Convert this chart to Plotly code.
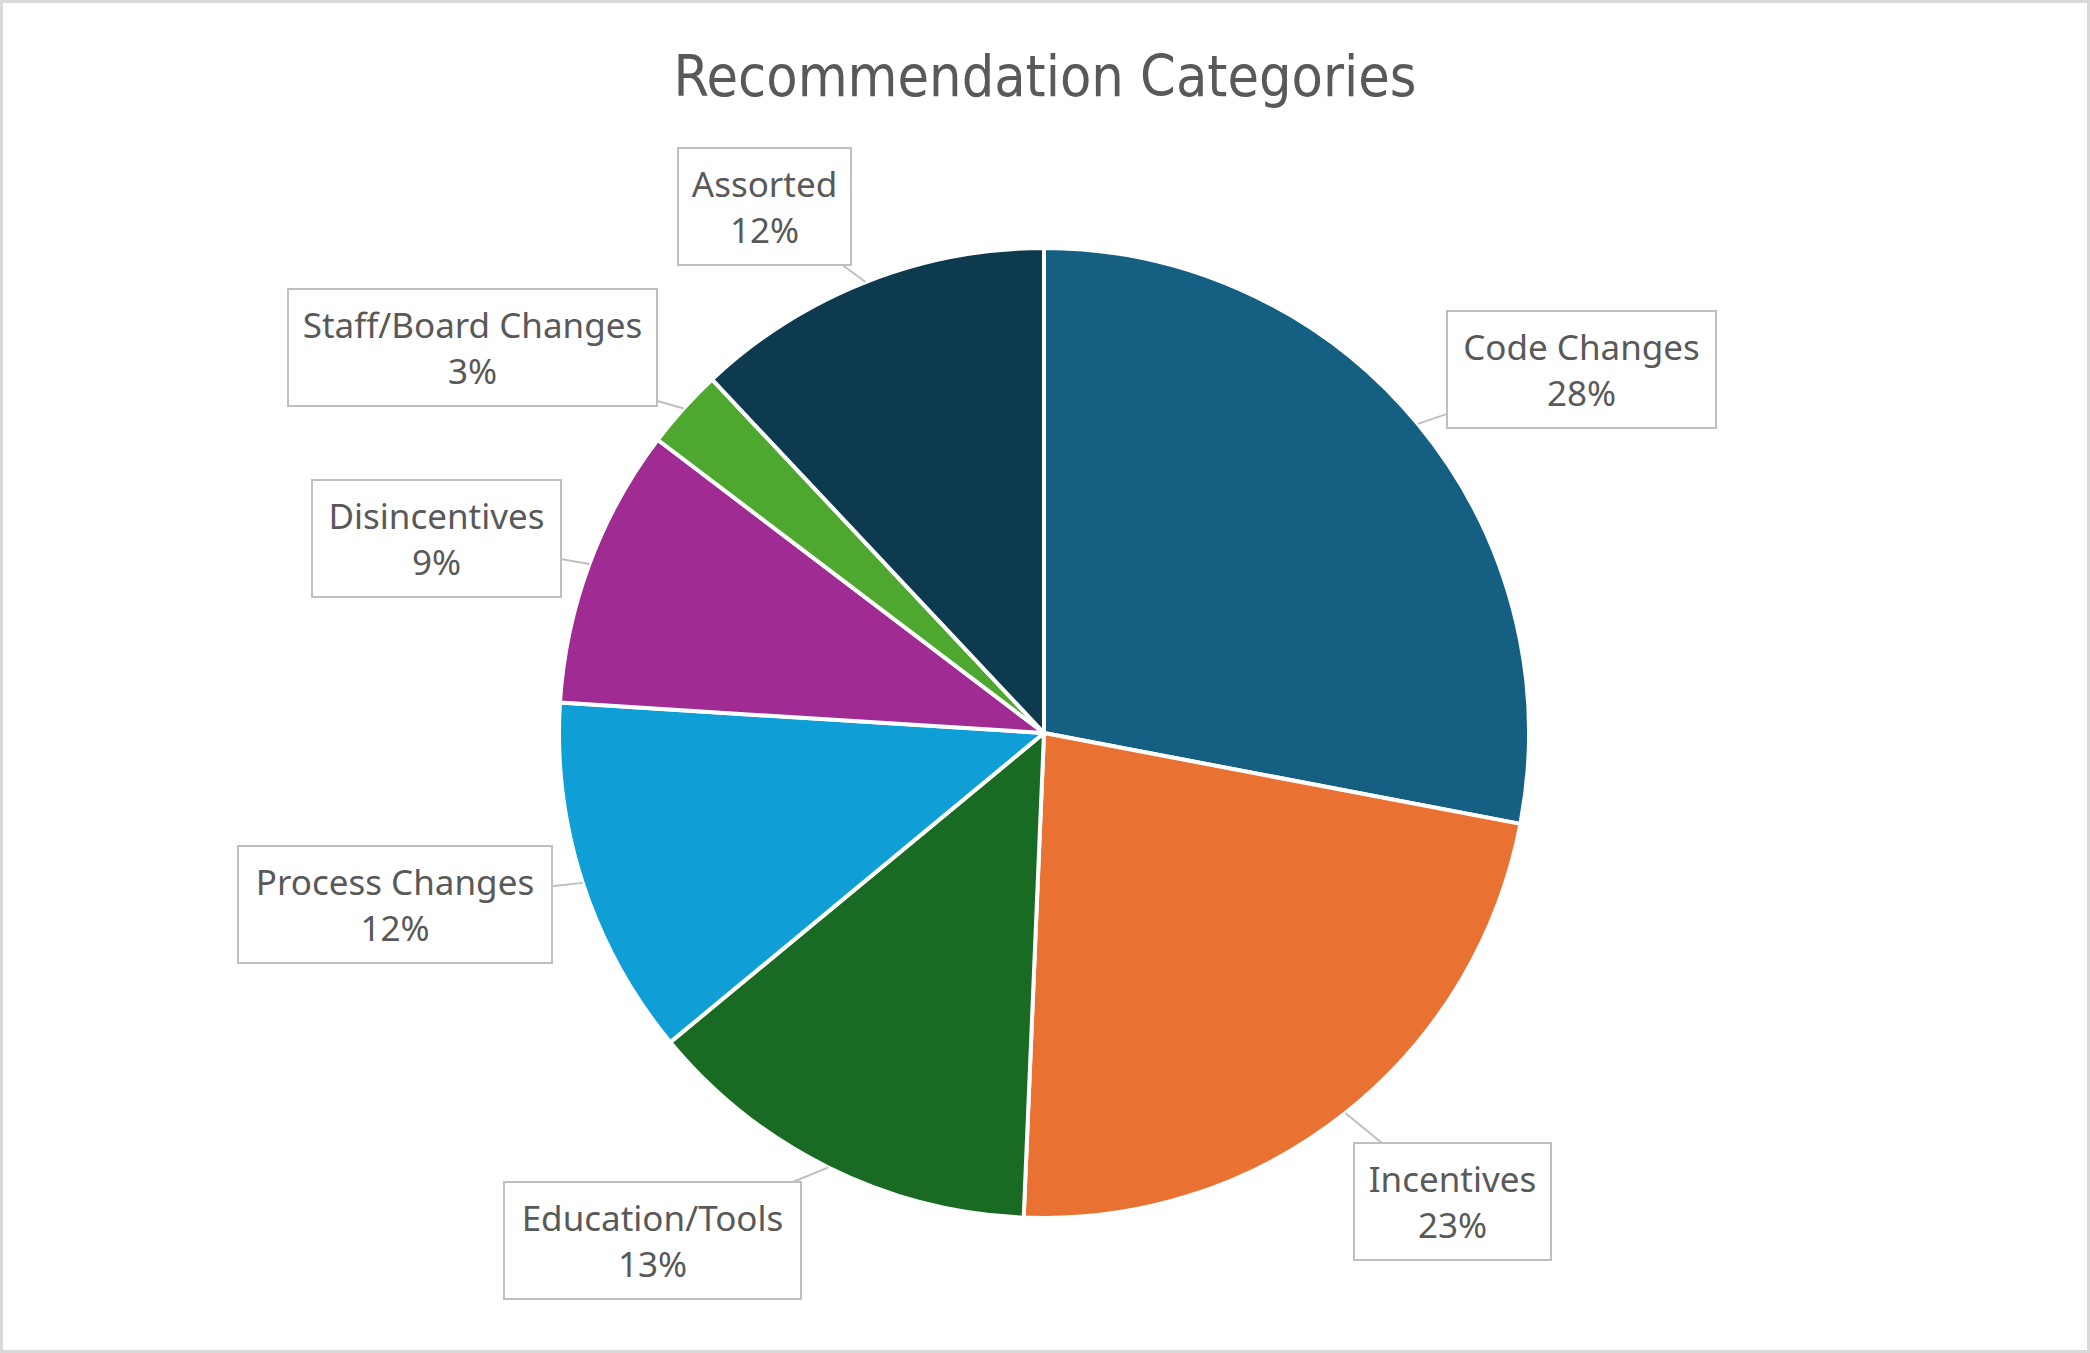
import math
import plotly.graph_objects as go

# ---- data ----
categories = ["Code Changes", "Incentives", "Education/Tools", "Process Changes",
              "Disincentives", "Staff/Board Changes", "Assorted"]
counts = [21, 17, 10, 9, 7, 2, 9]
colors = ["#156082", "#E97132", "#196B24", "#0F9ED5", "#A02B93", "#4EA72E", "#0E3A4F"]

# label box layout: centre x, centre y, box width (px from top-left)
label_box = {
    "Code Changes": (1581, 369, 271),
    "Incentives": (1453, 1201, 199),
    "Education/Tools": (652, 1240, 299),
    "Process Changes": (395, 904, 316),
    "Disincentives": (436, 538, 251),
    "Staff/Board Changes": (472, 348, 371),
    "Assorted": (764, 207, 175),
}

W, H = 2090, 1353
CX, CY, R = 1044, 733, 485
PAD = 11

fig = go.Figure(go.Pie(
    labels=categories, values=counts, sort=False, direction="clockwise", rotation=0,
    marker=dict(colors=colors, line=dict(color="white", width=4)),
    textinfo="none", hoverinfo="label+percent", showlegend=False,
    domain=dict(x=[(CX - R) / W, (CX + R) / W], y=[(H - CY - R) / H, (H - CY + R) / H]),
))

total = sum(counts)
cum = 0
annotations = []
for cat, v in zip(categories, counts):
    mid = (cum + v / 2) / total
    cum += v
    th = 2 * math.pi * mid
    tx = CX + R * math.sin(th)
    ty = CY - R * math.cos(th)
    bx, by, bw = label_box[cat]
    pct = round(100 * v / total)
    annotations.append(dict(
        x=tx / W, y=1 - ty / H, xref="paper", yref="paper",
        text=f"{cat}<br>{pct}%", showarrow=True, arrowhead=0, arrowwidth=2,
        arrowcolor="#BFBFBF", ax=bx - tx, ay=by - ty,
        font=dict(family="Noto Sans", size=35, color="#595959"),
        width=bw - 2 * PAD - 4,
        bordercolor="#BFBFBF", borderwidth=2, borderpad=PAD, bgcolor="white",
        align="center",
    ))

fig.update_layout(
    width=W, height=H, autosize=False,
    margin=dict(l=0, r=0, t=0, b=0),
    paper_bgcolor="white", plot_bgcolor="white",
    title=dict(text="Recommendation Categories", x=0.5, xanchor="center",
               y=1 - 76 / H, yanchor="middle",
               font=dict(family="DejaVu Sans Condensed, Roboto, sans-serif", size=57, color="#595959")),
    annotations=annotations,
    shapes=[dict(type="rect", xref="paper", yref="paper", x0=0, x1=1, y0=0, y1=1,
                 line=dict(color="#D9D9D9", width=6), fillcolor="rgba(0,0,0,0)", layer="above")],
)

fig.write_html("out.html")
